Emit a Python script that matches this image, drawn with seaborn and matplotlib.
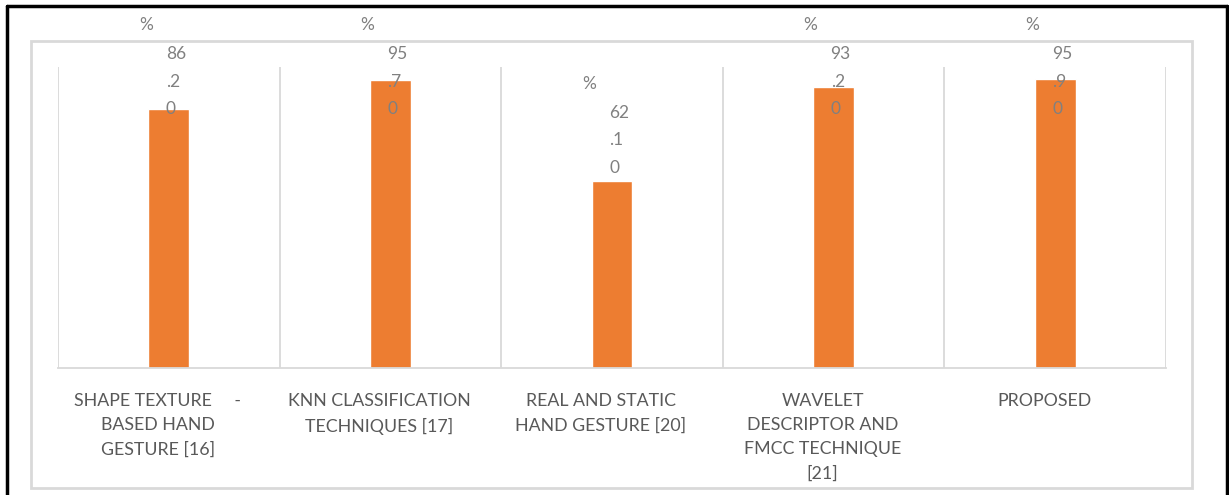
import numpy as np
import pandas as pd
import matplotlib
matplotlib.use("Agg")
import matplotlib.pyplot as plt
from matplotlib.patches import Rectangle
from matplotlib.lines import Line2D
from matplotlib.transforms import ScaledTranslation
import seaborn as sns

categories = [
    "SHAPE TEXTURE     -\nBASED HAND\nGESTURE [16]",
    "KNN CLASSIFICATION\nTECHNIQUES [17]",
    "REAL AND STATIC\nHAND GESTURE [20]",
    "WAVELET\nDESCRIPTOR AND\nFMCC TECHNIQUE\n[21]",
    "PROPOSED",
]
accuracy = [86.2, 95.7, 62.1, 93.2, 95.9]

sns.set_theme(style="white")
plt.rcParams["font.family"] = ["Lato", "DejaVu Sans"]

W, H = 1229, 495
fig = plt.figure(figsize=(W / 100, H / 100), dpi=100)
ax = fig.add_axes([58 / W, (H - 368) / H, (1166 - 58) / W, (368 - 67) / H])

df = pd.DataFrame({"cat": categories, "acc": accuracy})
sns.barplot(data=df, x="cat", y="acc", color="#ED7D31", width=0.185,
            saturation=1, ax=ax)

ax.set_xlim(-0.5, len(categories) - 0.5)
ax.set_ylim(0, 100)
ax.set_yticks([])
ax.set_xlabel("")
ax.set_ylabel("")

# category separator gridlines
ax.set_xticks(np.arange(-0.5, len(categories)), minor=True)
ax.grid(which="minor", axis="x", color="#D9D9D9", linewidth=1.3)
ax.grid(which="major", visible=False)
ax.tick_params(axis="x", which="both", length=0, pad=18)
for lab in ax.get_xticklabels():
    lab.set_fontsize(12.8)
    lab.set_color("#595959")
    lab.set_linespacing(1.62)
    lab.set_va("top")
    lab.set_transform(lab.get_transform() + ScaledTranslation(-11 / 100, 0, fig.dpi_scale_trans))

for s in ["top", "left", "right"]:
    ax.spines[s].set_visible(False)
ax.spines["bottom"].set_color("#D9D9D9")
ax.spines["bottom"].set_linewidth(1.3)

# data labels (wrapped Excel style)
cap = 86.0
for i, v in enumerate(accuracy):
    s = f"{v:.2f}"
    parts = [s[:2], s[2:4], s[4:]]
    y0 = min(v + 4.4, cap)
    for k, p in enumerate(reversed(parts)):
        ax.annotate(p, xy=(i, y0), xytext=(-3, 27.6 * k), textcoords="offset pixels",
                    ha="left", va="center", fontsize=12.5, color="#808080",
                    annotation_clip=False)
    ax.annotate("%", xy=(i, y0), xytext=(-23, 84), textcoords="offset pixels",
                ha="center", va="center", fontsize=12.5, color="#808080",
                annotation_clip=False)

# chart area box and outer frame
fig.add_artist(Rectangle((31 / W, (H - 488) / H), (1192 - 31) / W, (488 - 41) / H,
                         transform=fig.transFigure, fill=False,
                         edgecolor="#D9D9D9", linewidth=2))
fig.add_artist(Line2D([7 / W, 7 / W], [0, (H - 6) / H], transform=fig.transFigure,
                      color="black", linewidth=2.5))
fig.add_artist(Line2D([7 / W, 1227 / W], [(H - 6) / H, (H - 6) / H],
                      transform=fig.transFigure, color="black", linewidth=2.5))
fig.add_artist(Line2D([1227 / W, 1227 / W], [0, (H - 6) / H], transform=fig.transFigure,
                      color="black", linewidth=2.5))

fig.savefig("out.png", dpi=100, facecolor="white")
